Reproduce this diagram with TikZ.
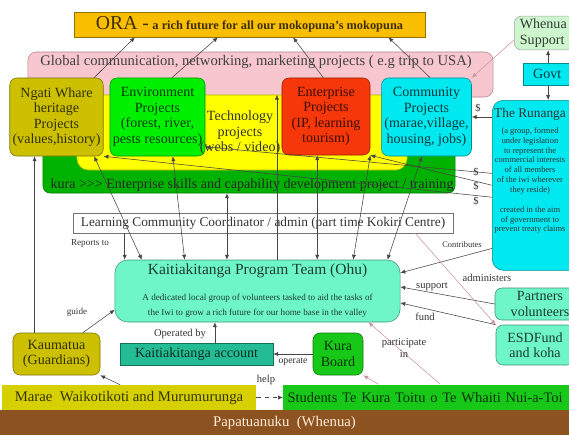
\documentclass[tikz,border=0pt]{standalone}
\usepackage{fontspec}
\setmainfont{Liberation Serif}
\usetikzlibrary{positioning,calc,arrows.meta}
\definecolor{oracolor}{RGB}{250,190,0}
\definecolor{globalcolor}{RGB}{248,198,206}
\definecolor{techcolor}{RGB}{255,255,0}
\definecolor{skillcolor}{RGB}{0,178,0}
\definecolor{heritagecolor}{RGB}{204,192,0}
\definecolor{envcolor}{RGB}{0,240,0}
\definecolor{entcolor}{RGB}{245,55,10}
\definecolor{commcolor}{RGB}{0,232,240}
\definecolor{supportcolor}{RGB}{206,246,206}
\definecolor{teamcolor}{RGB}{110,245,200}
\definecolor{acctcolor}{RGB}{36,188,148}
\definecolor{boardcolor}{RGB}{24,200,24}
\definecolor{maraecolor}{RGB}{214,208,0}
\definecolor{earthcolor}{RGB}{140,82,32}
\definecolor{linkcolor}{RGB}{70,70,70}
\definecolor{pinklink}{RGB}{200,150,160}

\begin{document}
\begin{tikzpicture}[x=0.025cm, y=-0.025cm,
    base/.style={rectangle, rounded corners=5pt, align=center, inner sep=2pt, font=\fontsize{10}{11}\selectfont},
    projbox/.style={base, draw=#1!60!black, fill=#1, text=#1!25!black},
    band/.style={rectangle, inner sep=0pt, draw=#1!70!black, fill=#1},
    lbl/.style={font=\fontsize{7.5}{8.5}\selectfont, text=black!80, inner sep=1pt, align=center},
    small/.style={font=\fontsize{6}{7}\selectfont, inner sep=1pt, align=center},
    link/.style={draw=linkcolor, line width=0.4pt, -{Latex[length=3.5pt,width=3pt]}},
    twoway/.style={link, {Latex[length=3.5pt,width=3pt]}-{Latex[length=3.5pt,width=3pt]}},
    plink/.style={link, draw=pinklink}
]
\useasboundingbox (0,0) rectangle (569,435);
\clip (0,0) rectangle (569,435);

% Vision
\node[projbox=oracolor, rounded corners=0pt, minimum width=8.775cm, minimum height=0.625cm] (ora) at (249.5,24.5)
  {{\fontsize{14}{14}\selectfont ORA -} {\fontsize{8.8}{10}\selectfont\bfseries a rich future for all our mokopuna's mokopuna}};

% Background layers
\node[band=globalcolor, rounded corners=6pt, minimum width=11.625cm, minimum height=1.125cm] (global) at (260.5,74.5) {};
\node[font=\fontsize{10.4}{11}\selectfont, text=black!75] (globaltxt) at (256,62) {Global communication, networking, marketing projects ( e.g trip to USA)};
\node[band=skillcolor, rounded corners=5pt, minimum width=10.3cm, minimum height=1.325cm] (skills) at (249,166.5) {};
\node[font=\fontsize{10}{11}\selectfont, text=black!85] (skillstxt) at (252,185) {kura >{}>{}> Enterprise skills and capability development project / training};
\node[band=techcolor, rounded corners=8pt, minimum width=8.25cm, minimum height=1.875cm] (yellow) at (242,132.5) {};

% Projects
\node[projbox=heritagecolor, minimum width=2.175cm, minimum height=1.95cm] (ngati) at (56.5,117) {Ngati Whare\\heritage\\Projects\\(values,history)};
\node[projbox=envcolor, minimum width=2.125cm, minimum height=1.95cm] (env) at (157.5,117) {Environment\\Projects\\(forest, river,\\pests resources)};
\node[base, text=black!80] (tech) at (240,133) {Technology\\projects\\(webs / video)};
\node[projbox=entcolor, minimum width=2.2cm, minimum height=1.925cm] (ent) at (326,116.5) {Enterprise\\Projects\\(IP, learning\\tourism)};
\node[projbox=commcolor, minimum width=2.175cm, minimum height=1.95cm] (comm) at (426.5,117) {Community\\Projects\\(marae,village,\\housing, jobs)};

% Iwi and government
\node[projbox=supportcolor, draw=black!35, anchor=west, text width=2.2cm, align=left, inner xsep=4pt] (whenua) at (514,33) {Whenua\\Support};
\node[projbox=commcolor, rounded corners=0pt, anchor=west, text width=1.2cm, align=left, inner xsep=7pt, minimum height=0.55cm] (govt) at (523,74) {Govt};
\node[projbox=commcolor, rounded corners=8pt, anchor=north west, minimum width=3cm, minimum height=4.25cm] (kur) at (492,100) {};
\node[small, anchor=north, text=black!80] (kurtxt) at (530,107)
  {{\fontsize{9.5}{13}\selectfont The Runanga}\\[4pt](a group, formed\\under legislation\\to represent the\\commercial interests\\of all members\\of the iwi wherever\\they reside)\\[7pt]created in the aim\\of government to\\prevent treaty claims};

% Coordination
\node[rectangle, draw=black!55, fill=white, minimum width=9.5cm, minimum height=0.5cm, inner sep=1pt, font=\fontsize{9.5}{10}\selectfont, text=black!80] (lcc) at (263,223)
  {Learning Community Coordinator / admin (part time Kokiri Centre)};
\node[projbox=teamcolor, rounded corners=9pt, minimum width=7.125cm, minimum height=1.55cm] (team) at (257.5,291)
  {{\fontsize{11}{13}\selectfont Kaitiakitanga Program Team (Ohu)}\\[7pt]{\fontsize{6.5}{7.5}\selectfont A dedicated local group of volunteers tasked to aid the tasks of}\\{\fontsize{6.5}{7.5}\selectfont the Iwi to grow a rich future for our home base in the valley}};
\node[projbox=teamcolor, minimum width=2.25cm, minimum height=0.8cm] (partners) at (540,304) {Partners\\volunteers};
\node[projbox=teamcolor, minimum width=1.95cm, minimum height=1cm] (esd) at (535,345) {ESDFund\\and koha};

% Guardians and operations
\node[projbox=heritagecolor, minimum width=2.175cm, minimum height=1.05cm] (kaum) at (56.5,354) {Kaumatua\\(Guardians)};
\node[projbox=acctcolor, rounded corners=0pt, minimum width=3.825cm, minimum height=0.55cm] (acct) at (196.5,354) {Kaitiakitanga account};
\node[projbox=boardcolor, minimum width=1.25cm, minimum height=1.05cm] (board) at (338,354) {Kura\\Board};

% Ground
\node[projbox=maraecolor, rounded corners=0pt, draw=none, minimum width=6.35cm, minimum height=0.625cm, font=\fontsize{10.5}{11}\selectfont] (marae) at (129,397.5) {Marae\ \ Waikotikoti and Murumurunga};
\node[projbox=boardcolor, rounded corners=0pt, draw=none, anchor=west, text width=7.8cm, align=left, inner xsep=3pt, minimum height=0.65cm, font=\fontsize{10.3}{11}\selectfont] (students) at (283,397.5) {Students Te Kura Toitu o Te Whaiti Nui-a-Toi};
\node[projbox=earthcolor, rounded corners=0pt, draw=none, text=orange!15, minimum width=14.3cm, minimum height=0.625cm, font=\fontsize{10.5}{11}\selectfont] (earth) at (284.5,422.5) {Papatuanuku\ \ (Whenua)};

% Projects feed ORA
\draw[link] ($(ngati.north west)!0.9!(ngati.north east)$) -- ($(ora.south west)!0.174!(ora.south east)$);
\draw[link] ($(env.north west)!0.65!(env.north east)$) -- ($(ora.south west)!0.41!(ora.south east)$);
\draw[link] ($(ent.north west)!0.47!(ent.north east)$) -- ($(ora.south west)!0.624!(ora.south east)$);
\draw[link] ($(comm.north west)!0.54!(comm.north east)$) -- ($(ora.south west)!0.895!(ora.south east)$);

% Support side
\draw[plink] ($(whenua.north west)!0.7!(whenua.south west)$) -- (comm.north east);
\draw[link] ([xshift=-0.225cm]govt.north) -- ([xshift=-0.225cm]govt.north |- whenua.south);
\draw[link] ([xshift=-0.225cm]govt.south) -- ([xshift=-0.225cm]govt.south |- kur.north);

% Runanga funding
\draw[link] (kur.west |- comm.east) -- (comm.east);
\draw[link] ($(kur.north west)!0.43!(kur.south west)$) -- ($(env.north east)!0.88!(env.south east)$);
\draw[link] ($(kur.north west)!0.5!(kur.south west)$) -- (ent.south east);
\draw[link] ($(kur.north west)!0.57!(kur.south west)$) -- (ngati.south east);
\draw[link] ($(kur.north west)!0.87!(kur.south west)$) -- ($(team.north east)!0.21!(team.south east)$);
\node[lbl] (d1) at (478,108) {\$};
\node[lbl] (d2) at (476,172) {\$};
\node[lbl] (d3) at (476,186) {\$};
\node[lbl] (d4) at (476,201) {\$};
\node[lbl, font=\fontsize{6}{7}\selectfont] (contrib) at (462,245) {Contributes};

% Team links to the projects
\coordinate (ta) at ($(team.north west)!0.035!(team.north east)$);
\coordinate (tb) at ($(team.north west)!0.095!(team.north east)$);
\coordinate (tc) at ($(team.north west)!0.245!(team.north east)$);
\coordinate (td) at ($(team.north west)!0.393!(team.north east)$);
\coordinate (te) at ($(team.north west)!0.568!(team.north east)$);
\coordinate (tf) at ($(team.north west)!0.709!(team.north east)$);
\coordinate (tg) at ($(team.north west)!0.835!(team.north east)$);
\coordinate (th) at ($(team.north west)!0.955!(team.north east)$);
\draw[link] (ta |- lcc.south) -- (ta);
\node[lbl, font=\fontsize{6.5}{7}\selectfont] (reports) at (90,243) {Reports to};
\draw[twoway] ($(ngati.south west)!0.9!(ngati.south east)$) -- (tb);
\draw[twoway] ($(env.south west)!0.66!(env.south east)$) -- (tc);
\draw[twoway] (td |- skills.south) -- (td);
\draw[link] (te) -- (te |- yellow.north);
\draw[twoway] (tf |- ent.south) -- (tf);
\draw[twoway] (ent.south east) -- (tg);
\draw[twoway] ($(comm.south west)!0.45!(comm.south east)$) -- (th);

% Partners and funds
\draw[link] (partners.west) -- ($(team.north east)!0.435!(team.south east)$);
\draw[link] (esd.north west) -- ($(team.north east)!0.69!(team.south east)$);
\draw[plink] ($(lcc.south west)!0.9!(lcc.south east)$) -- (esd.north west);
\node[lbl] (admin) at (487,278) {administers};
\node[lbl] (support) at (432,287) {support};
\node[lbl] (fund) at (425,317) {fund};

% Students, board and account
\draw[plink] ($(students.north west)!0.49!(students.north east)$) -- ($(team.south west)!0.888!(team.south east)$);
\node[lbl] (partic) at (404,348) {participate\\in};
\draw[plink] ($(students.north west)!0.297!(students.north east)$) -- (board.south east);
\draw[link] (board.west) -- (acct.east);
\node[lbl, font=\fontsize{7}{8}\selectfont] (operate) at (293,362) {operate};
\draw[link] ([xshift=0.46cm]acct.north) -- ([xshift=0.46cm]acct.north |- team.south);
\node[lbl] (opby) at (180,334) {Operated by};

% Guardians
\draw[link] ($(kaum.north west)!0.8!(kaum.north east)$) -- ($(team.north west)!0.8!(team.south west)$);
\node[lbl, font=\fontsize{6.5}{7}\selectfont] (guide) at (77,312) {guide};
\coordinate (kg) at ($(kaum.north west)!0.25!(kaum.north east)$);
\draw[link] (kg) -- (kg |- ngati.south);
\draw[link] ($(marae.north west)!0.465!(marae.north east)$) -- (kaum.south east);
\draw[link, dashed] (marae.east) -- (students.west);
\node[lbl] (help) at (266,380) {help};

\end{tikzpicture}
\end{document}
